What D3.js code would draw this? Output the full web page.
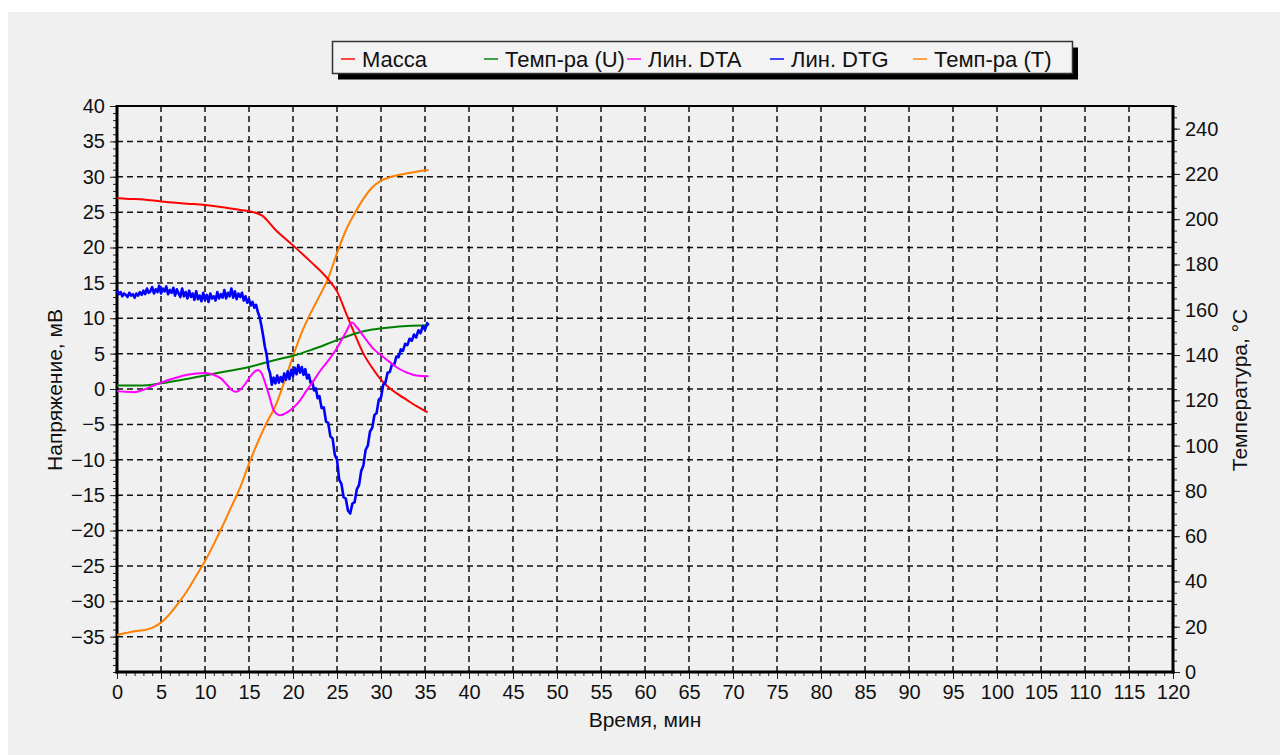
<!DOCTYPE html>
<html>
<head>
<meta charset="utf-8">
<script src="https://cdn.jsdelivr.net/npm/d3@7"></script>
<style>
  html, body { margin: 0; padding: 0; background: #ffffff; }
  svg { display: block; }
  text { font-family: "Liberation Sans", Arial, sans-serif; fill: #111; }
</style>
</head>
<body>
<svg id="chart" width="1280" height="755"></svg>
<script>
// ---------------- DATA ----------------
const seriesNames = ["Масса", "Темп-ра (U)", "Лин. DTA", "Лин. DTG", "Темп-ра (T)"];

const xTicks = [0,5,10,15,20,25,30,35,40,45,50,55,60,65,70,75,80,85,90,95,100,105,110,115,120];
const leftTicks = [-35,-30,-25,-20,-15,-10,-5,0,5,10,15,20,25,30,35,40];
const rightTicks = [0,20,40,60,80,100,120,140,160,180,200,220,240];

// Масса (mV, left axis)
const massa = [[0,27.0],[1,26.9],[3,26.8],[5,26.5],[8,26.2],[10,26.0],[12,25.7],[14,25.3],[15.5,25.0],[16.5,24.5],
  [18,22.5],[20,20.3],[22,18.0],[24,15.5],[25,13.8],[26,10.8],[27,7.8],[28,5.0],[29,3.0],[30,1.3],[31,0.1],
  [32,-0.8],[33,-1.6],[34,-2.4],[35.3,-3.3]];

// Темп-ра (U) (mV, left axis)
const tempU = [[0,0.5],[3,0.5],[4,0.6],[5,0.8],[7,1.2],[10,1.9],[12,2.4],[15,3.1],[18,4.1],[20,4.7],[22,5.5],
  [25,6.9],[27,7.8],[29,8.4],[31,8.7],[33,8.9],[35.4,9.0]];

// Лин. DTA (mV, left axis)
const dta = [[0,-0.3],[1,-0.4],[2,-0.45],[3,-0.1],[4,0.4],[5,0.9],[6,1.35],[7,1.7],[8,2.0],[9,2.2],[10,2.25],
  [11,2.0],[11.8,1.5],[12.5,0.6],[13,-0.1],[13.5,-0.4],[14,-0.1],[14.5,0.6],[15,1.5],[15.5,2.3],[16,2.7],
  [16.4,2.3],[16.8,1.0],[17.3,-1.0],[17.8,-3.0],[18.5,-3.7],[19.2,-3.4],[20,-2.7],[20.8,-1.6],[21.5,-0.3],
  [22.2,0.9],[23,2.4],[24,4.0],[25,5.8],[26,8.0],[26.7,9.4],[27.2,8.8],[28,7.5],[28.6,6.5],[29.2,5.6],
  [30,4.8],[31,3.8],[32,2.9],[33,2.3],[34,1.9],[35.4,1.8]];

// Лин. DTG (mV, left axis) - noisy signal
const dtg = [[0,13.9],[0.2,13.4],[0.4,13.7],[0.6,13.1],[0.8,13.5],[1,13.3],[1.2,13.0],[1.4,13.6],[1.6,13.2],
  [1.8,13.4],[2,12.9],[2.2,13.5],[2.4,13.2],[2.6,13.7],[2.8,13.3],[3,13.9],[3.2,13.4],[3.4,14.2],[3.6,13.6],
  [3.8,13.8],[4,14.4],[4.2,13.5],[4.4,14.1],[4.6,13.7],[4.8,14.6],[5,13.5],[5.2,14.2],[5.4,13.8],[5.6,14.5],
  [5.8,13.4],[6,14.0],[6.2,13.6],[6.4,14.3],[6.6,13.2],[6.8,14.1],[7,13.5],[7.2,13.0],[7.4,14.2],[7.6,13.1],
  [7.8,13.7],[8,12.8],[8.2,13.9],[8.4,13.0],[8.6,13.5],[8.8,12.6],[9,13.8],[9.2,12.7],[9.4,13.2],[9.6,12.4],
  [9.8,13.6],[10,12.6],[10.2,13.3],[10.4,12.3],[10.6,13.5],[10.8,12.8],[11,13.1],[11.2,12.5],[11.4,13.7],
  [11.6,12.8],[11.8,13.4],[12,12.9],[12.2,14.0],[12.4,12.8],[12.6,13.6],[12.8,13.1],[13,14.2],[13.2,12.9],
  [13.4,13.8],[13.6,12.7],[13.8,13.5],[14,13.0],[14.2,13.6],[14.4,12.5],[14.6,13.1],[14.8,12.2],[15,12.7],
  [15.2,11.8],[15.4,12.3],[15.6,11.5],[15.8,11.9],[16,10.9],[16.2,10.2],[16.4,9.0],[16.6,7.6],[16.8,6.0],
  [17,4.9],[17.2,3.0],[17.4,2.2],[17.6,0.6],[17.8,1.6],[18,0.8],[18.2,1.9],[18.4,0.9],[18.6,1.7],[18.8,1.0],
  [19,2.2],[19.2,1.3],[19.4,2.5],[19.6,1.4],[19.8,2.7],[20,1.8],[20.2,3.0],[20.4,2.1],[20.6,3.4],[20.8,2.3],
  [21,3.1],[21.2,2.0],[21.4,2.8],[21.6,1.5],[21.8,2.0],[22,0.9],[22.2,1.0],
  [22.4,-0.2],[22.6,0.1],[22.8,-1.3],[23,-1.0],[23.25,-2.7],[23.5,-2.6],[23.75,-4.6],[24,-4.8],
  [24.25,-6.7],[24.5,-7.0],[24.75,-9.3],[25,-10.0],[25.25,-12.8],[25.5,-13.4],[25.75,-15.3],[26,-15.5],
  [26.25,-17.2],[26.5,-17.6],[26.75,-16.2],[27,-16.0],[27.25,-14.2],[27.5,-13.6],[27.75,-11.6],[28,-10.8],
  [28.25,-8.6],[28.5,-8.0],[28.75,-6.0],[29,-5.5],[29.25,-3.7],[29.5,-3.4],[29.75,-1.5],[30,-1.2],
  [30.25,0.6],[30.5,0.9],[30.75,2.3],[31,2.4],[31.25,3.5],[31.5,3.4],[31.75,4.6],[32,4.5],[32.25,5.6],
  [32.5,5.4],[32.75,6.4],[33,6.2],[33.25,7.1],[33.5,6.8],[33.75,7.7],[34,7.3],[34.25,8.3],[34.5,7.9],
  [34.75,8.9],[35,8.4],[35.25,9.3],[35.4,9.0]];

// Темп-ра (T) (°C, right axis)
const tempT = [[0,16.3],[1,17.2],[2,18.0],[3,18.4],[4,19.5],[5,21.8],[6,25.7],[7,30.5],[8,36.0],[9,42.5],
  [10,49.0],[11,56.5],[12,64.5],[13,73.0],[14,81.5],[15,92.0],[16,101.5],[17,110.0],[18,117.5],[19,128.0],
  [20,139.5],[21,150.0],[22,158.5],[23,166.0],[24,174.0],[25,185.0],[26,195.0],[27,202.5],[28,209.0],
  [29,214.0],[30,217.0],[31,218.5],[32,219.5],[33,220.3],[34,221.0],[35.4,221.7]];

// ---------------- STYLE ----------------
const lineColors = ["#ff0000", "#008000", "#ff00ff", "#0000ff", "#ff8000"];
const legendColors = ["#ff4444", "#44a044", "#ff44ff", "#4444ff", "#ffa044"];

// ---------------- LAYOUT ----------------
const svg = d3.select("#chart");
const L = 117, R = 1173, T = 106, B = 672;

svg.append("rect").attr("x", 8).attr("y", 12).attr("width", 1272).attr("height", 743).attr("fill", "#f0f0f0");

const x = d3.scaleLinear().domain([0, 120]).range([L, R]);
const yL = d3.scaleLinear().domain([-40, 40]).range([B, T]);
const yR = d3.scaleLinear().domain([0, 250]).range([B, T]);

// grid
const grid = svg.append("g").attr("stroke", "#111").attr("stroke-width", 1.5).attr("stroke-dasharray", "6,4");
grid.selectAll("line.v").data(xTicks.filter(d => d > 0 && d < 120)).join("line")
  .attr("x1", d => x(d)).attr("x2", d => x(d)).attr("y1", B).attr("y2", T);
grid.selectAll("line.h").data(leftTicks.filter(d => d > -40 && d < 40)).join("line")
  .attr("y1", d => yL(d)).attr("y2", d => yL(d)).attr("x1", L).attr("x2", R);

// axes
function styleAxis(g) {
  g.select(".domain").remove();
  g.selectAll(".tick line").attr("stroke", "#222").attr("stroke-width", 1);
  g.selectAll(".tick text").attr("font-size", "20px").attr("fill", "#111")
    .attr("font-family", "'Liberation Sans', Arial, sans-serif");
}
const minorX = d3.range(0, 121, 1), minorL = d3.range(-40, 41, 1), minorR = d3.range(0, 251, 5);

svg.append("g").attr("transform", `translate(0,${B})`)
  .call(d3.axisBottom(x).tickValues(minorX).tickSize(4).tickFormat(""))
  .call(styleAxis);
svg.append("g").attr("transform", `translate(0,${B})`)
  .call(d3.axisBottom(x).tickValues(xTicks).tickSize(7).tickPadding(6).tickFormat(d3.format("d")))
  .call(styleAxis);

svg.append("g").attr("transform", `translate(${L},0)`)
  .call(d3.axisLeft(yL).tickValues(minorL).tickSize(4).tickFormat(""))
  .call(styleAxis);
svg.append("g").attr("transform", `translate(${L},0)`)
  .call(d3.axisLeft(yL).tickValues(leftTicks).tickSize(7).tickPadding(5).tickFormat(d3.format("d")))
  .call(styleAxis);

svg.append("g").attr("transform", `translate(${R},0)`)
  .call(d3.axisRight(yR).tickValues(minorR).tickSize(4).tickFormat(""))
  .call(styleAxis);
svg.append("g").attr("transform", `translate(${R},0)`)
  .call(d3.axisRight(yR).tickValues(rightTicks).tickSize(7).tickPadding(5).tickFormat(d3.format("d")))
  .call(styleAxis);

// frame
svg.append("line").attr("x1", L).attr("x2", R).attr("y1", T).attr("y2", T).attr("stroke", "#000").attr("stroke-width", 2);
svg.append("line").attr("x1", L).attr("x2", L).attr("y1", T - 1).attr("y2", B + 1.5).attr("stroke", "#000").attr("stroke-width", 3);
svg.append("line").attr("x1", R).attr("x2", R).attr("y1", T - 1).attr("y2", B + 1.5).attr("stroke", "#000").attr("stroke-width", 3);
svg.append("line").attr("x1", L - 1.5).attr("x2", R + 1.5).attr("y1", B).attr("y2", B).attr("stroke", "#000").attr("stroke-width", 3);

// series
const lineL = d3.line().x(d => x(d[0])).y(d => yL(d[1])).curve(d3.curveMonotoneX);
const lineLin = d3.line().x(d => x(d[0])).y(d => yL(d[1]));
const lineR = d3.line().x(d => x(d[0])).y(d => yR(d[1])).curve(d3.curveMonotoneX);

const plot = svg.append("g").attr("fill", "none").attr("stroke-linejoin", "round");
plot.append("path").attr("d", lineR(tempT)).attr("stroke", lineColors[4]).attr("stroke-width", 2);
plot.append("path").attr("d", lineL(massa)).attr("stroke", lineColors[0]).attr("stroke-width", 2);
plot.append("path").attr("d", lineL(tempU)).attr("stroke", lineColors[1]).attr("stroke-width", 2);
plot.append("path").attr("d", lineLin(dtg)).attr("stroke", lineColors[3]).attr("stroke-width", 2.6);
plot.append("path").attr("d", lineL(dta)).attr("stroke", lineColors[2]).attr("stroke-width", 2);

// axis titles
svg.append("text").attr("transform", `translate(62,390) rotate(-90)`).attr("text-anchor", "middle")
  .attr("font-size", "21px").text("Напряжение, мВ");
svg.append("text").attr("transform", `translate(1247,390) rotate(-90)`).attr("text-anchor", "middle")
  .attr("font-size", "21px").text("Температура, °C");
svg.append("text").attr("x", 645).attr("y", 727).attr("text-anchor", "middle")
  .attr("font-size", "21px").text("Время, мин");

// legend
const lg = svg.append("g");
lg.append("rect").attr("x", 338).attr("y", 47.5).attr("width", 740).attr("height", 32).attr("fill", "#000");
lg.append("rect").attr("x", 332.5).attr("y", 41.5).attr("width", 740).attr("height", 32)
  .attr("fill", "#f3f3f3").attr("stroke", "#333").attr("stroke-width", 1.5);
const items = lg.selectAll("g.item").data(seriesNames).join("g")
  .attr("transform", (d, i) => `translate(${341 + 143 * i},0)`);
items.append("line").attr("x1", 0).attr("x2", 14).attr("y1", 59).attr("y2", 59)
  .attr("stroke", (d, i) => legendColors[i]).attr("stroke-width", 2);
items.append("text").attr("x", 21).attr("y", 66.5).attr("font-size", "22px").text(d => d);
</script>
</body>
</html>
